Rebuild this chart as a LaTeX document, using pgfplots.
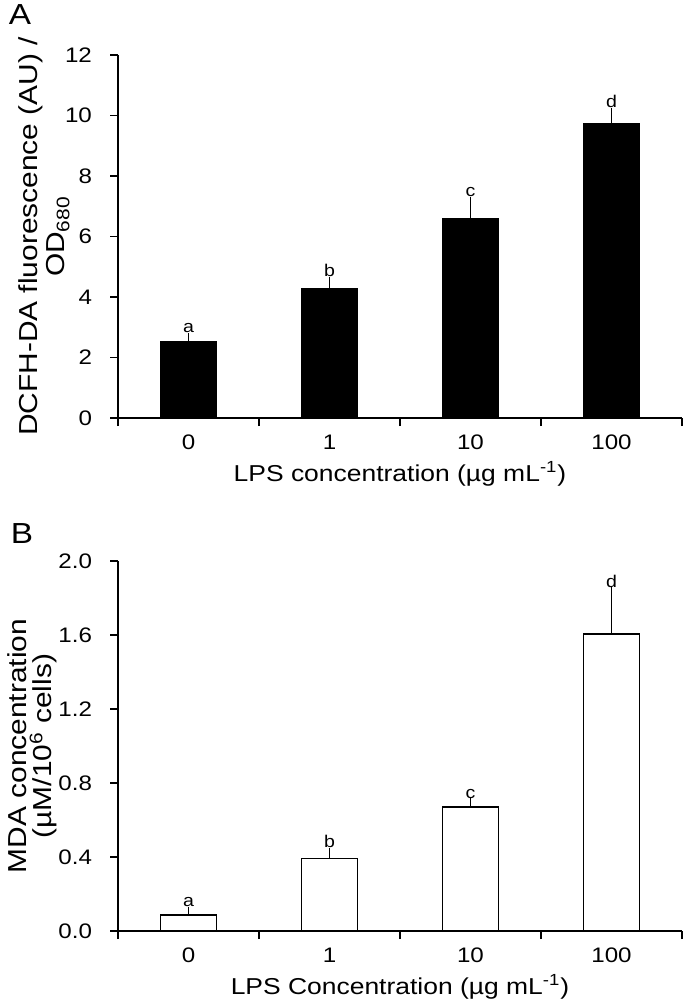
\documentclass[border=0pt]{standalone}
\usepackage{fontspec}
\setmainfont{Liberation Sans}[FakeStretch=1.15]
\usepackage{pgfplots}
\pgfplotsset{compat=1.18}
\pgfplotsset{
  mystyle/.style={
    scale only axis, width=282pt,
    axis x line*=bottom, axis y line*=left,
    xmin=-0.5, xmax=3.5, ymin=0,
    xtick={0,1,2,3}, xticklabels={0,1,10,100},
    minor xtick={-0.5,0.5,1.5,2.5,3.5},
    major x tick style={draw=none},
    tick align=outside, major tick length=4pt, minor tick length=4pt,
    tick style={black, line width=0.6pt},
    axis line style={line width=0.6pt, black},
    ticklabel style={font=\fontsize{10.5}{12}\selectfont},
    xticklabel style={yshift=-1pt},
    xlabel style={font=\fontsize{11.5}{13.5}\selectfont, yshift=1pt},
    yticklabel style={xshift=-5.5pt},
    /pgf/number format/assume math mode=true,
    enlargelimits=false, clip=false,
  },
  barstyle/.style={ybar, bar width=0.4, draw=black, line width=0.7pt,
    error bars/y dir=plus, error bars/y explicit,
    error bars/error bar style={line width=0.6pt, black},
    error bars/error mark options={black, mark size=1.6pt, line width=0.6pt}},
  letters/.style={draw=none, mark=none, nodes near coords, point meta=explicit symbolic,
    every node near coord/.append style={anchor=south, inner sep=1.5pt, font=\fontsize{8.5}{10}\selectfont}},
}
\begin{document}
\begin{tikzpicture}
\useasboundingbox (0,0) rectangle (342.5pt,-500pt);
\node[font=\fontsize{14.5}{16}\selectfont] at (10pt,-7.5pt) {A};
\node[font=\fontsize{14.5}{16}\selectfont] at (11pt,-267pt) {B};
\begin{axis}[mystyle, at={(59pt,-209pt)}, anchor=south west, height=181.5pt,
  ymax=12, ytick={0,2,4,6,8,10,12},
  ylabel={DCFH-DA fluorescence (AU) /\\OD\textsubscript{680}},
  ylabel style={at={(axis description cs:0,0.5)}, anchor=south, inner sep=0pt, yshift=24pt,
    align=center, font=\fontsize{13}{13.5}\selectfont},
  xlabel={LPS concentration (µg mL\textsuperscript{-1})}]
\addplot[barstyle, fill=black] table[x=x, y=y, y error=e] {
x y e
0 2.52 0.18
1 4.26 0.30
2 6.59 0.61
3 9.73 0.42
};
\addplot[letters] table[x=x, y=y, meta=lab] {
x y lab
0 2.70 a
1 4.56 b
2 7.20 c
3 10.15 d
};
\end{axis}
\begin{axis}[mystyle, at={(59pt,-465.5pt)}, anchor=south west, height=185pt,
  ymax=2.0, ytick={0,0.4,0.8,1.2,1.6,2.0},
  yticklabel style={/pgf/number format/.cd, fixed, fixed zerofill, precision=1},
  ylabel={MDA concentration\\(µM/10\textsuperscript{6} cells)},
  ylabel style={at={(axis description cs:0,0.5)}, anchor=south, inner sep=0pt, yshift=30.5pt,
    align=center, font=\fontsize{13}{12.5}\selectfont},
  xlabel={LPS Concentration (µg mL\textsuperscript{-1})}]
\addplot[barstyle, fill=white] table[x=x, y=y, y error=e] {
x y e
0 0.087 0.027
1 0.391 0.040
2 0.670 0.029
3 1.605 0.235
};
\addplot[letters] table[x=x, y=y, meta=lab] {
x y lab
0 0.114 a
1 0.431 b
2 0.699 c
3 1.840 d
};
\end{axis}
\end{tikzpicture}
\end{document}
